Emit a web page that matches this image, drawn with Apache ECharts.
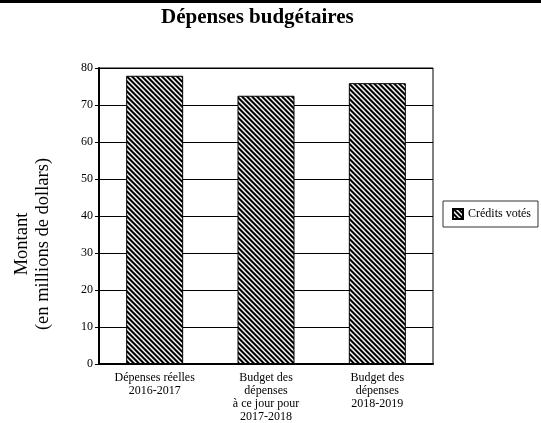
<!DOCTYPE html>
<html><head><meta charset="utf-8">
<script src="https://cdn.jsdelivr.net/npm/echarts@6/dist/echarts.min.js"></script>
<style>html,body{margin:0;padding:0;background:#fff}#c{width:541px;height:423px}</style>
</head><body><div id="c"></div>
<script>
const categories = ['Dépenses réelles\n2016-2017', 'Budget des\ndépenses\nà ce jour pour\n2017-2018', 'Budget des\ndépenses\n2018-2019'];
const values = [77.9, 72.5, 75.9];
const yTicks = [0, 10, 20, 30, 40, 50, 60, 70, 80];
const seriesName = 'Crédits votés';
const titleText = 'Dépenses budgétaires';
const yName1 = 'Montant';
const yName2 = '(en millions de dollars)';

function makePattern() {
  const p = 5;
  const cv = document.createElement('canvas');
  cv.width = p; cv.height = p;
  const ctx = cv.getContext('2d');
  const img = ctx.createImageData(p, p);
  const cols = [[0,0,0],[0,0,0],[130,130,130],[255,255,255],[130,130,130]];
  for (let y = 0; y < p; y++) for (let x = 0; x < p; x++) {
    const d = ((x - y) % p + p) % p;
    const c = cols[d];
    const i = (y * p + x) * 4;
    img.data[i] = c[0]; img.data[i+1] = c[1]; img.data[i+2] = c[2]; img.data[i+3] = 255;
  }
  ctx.putImageData(img, 0, 0);
  return cv;
}
const pattern = { image: makePattern(), repeat: 'repeat' };
const serif = '"Liberation Serif", "DejaVu Serif", serif';

const chart = echarts.init(document.getElementById('c'));
chart.setOption({
  animation: false,
  textStyle: { fontFamily: serif },
  title: { text: titleText, left: 161, top: 7, padding: 0, textStyle: { fontFamily: serif, fontSize: 21, fontWeight: 'bold', color: '#000' } },
  grid: { left: 99, right: 108, top: 68, bottom: 59, show: true, borderColor: '#000', borderWidth: 1, containLabel: false, outerBoundsMode: 'none' },
  legend: {
    data: [seriesName], left: 443, top: 201, orient: 'vertical',
    padding: [7, 7, 7, 9], borderColor: '#333', borderWidth: 1,
    itemWidth: 10, itemHeight: 10, icon: 'rect',
    textStyle: { fontFamily: serif, fontSize: 12, color: '#000' }
  },
  xAxis: {
    type: 'category', data: categories,
    axisLine: { lineStyle: { color: '#000', width: 2 } },
    axisTick: { show: false },
    axisLabel: { interval: 0, fontFamily: serif, fontSize: 12, lineHeight: 13, color: '#000', margin: 7 }
  },
  yAxis: {
    type: 'value', min: yTicks[0], max: yTicks[yTicks.length - 1], interval: 10,
    axisLine: { show: true, lineStyle: { color: '#000', width: 2 } },
    axisTick: { show: true, length: 4, lineStyle: { color: '#000' } },
    axisLabel: { fontFamily: serif, fontSize: 12, color: '#000', margin: 6 },
    splitLine: { lineStyle: { color: '#000', width: 1 } }
  },
  series: [{
    name: seriesName, type: 'bar', data: values, barWidth: 57,
    itemStyle: { color: pattern, borderColor: '#000', borderWidth: 1 }
  }],
  graphic: [
    { type: 'rect', left: 0, top: 0, shape: { width: 541, height: 3 }, style: { fill: '#000' } },
    { type: 'text', x: 22, y: 244, rotation: Math.PI / 2,
      style: { text: yName1, fontFamily: serif, fontSize: 18.5, fill: '#000', align: 'center', verticalAlign: 'middle' } },
    { type: 'text', x: 43, y: 244, rotation: Math.PI / 2,
      style: { text: yName2, fontFamily: serif, fontSize: 18.5, fill: '#000', align: 'center', verticalAlign: 'middle' } }
  ]
});
</script></body></html>
